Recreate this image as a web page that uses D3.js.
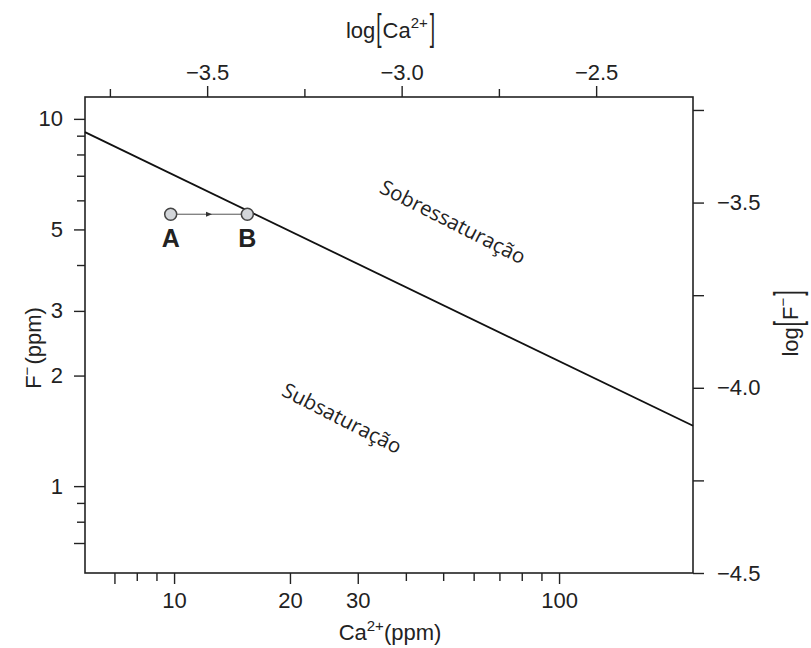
<!DOCTYPE html>
<html lang="pt">

<head>
    <meta charset="UTF-8">
    <script src="https://d3js.org/d3.v7.min.js"></script>
    <title>Fluorita</title>
    <style>
        body { margin: 0; background: #fff; }
        text { fill: #222; }
    </style>
</head>

<body>
    <div id="chart"></div>
    <script>
        const width = 811;
        const height = 648;
        const frame = { left: 85, right: 693, top: 97, bottom: 573 };

        // Data
        const caTicks = [7, 8, 9, 10, 20, 30, 40, 50, 60, 70, 80, 90, 100];
        const caLong = [7, 10, 20, 30, 100];
        const caLabels = [10, 20, 30, 100];
        const fTicks = [10, 9, 8, 7, 6, 5, 4, 3, 2, 1, 0.9, 0.8, 0.7];
        const fLong = [10, 5, 3, 2, 1, 0.7];
        const fLabels = [10, 5, 3, 2, 1];
        const logCaTicks = [-3.75, -3.5, -3.25, -3.0, -2.75, -2.5];
        const logCaLabels = [-3.5, -3.0, -2.5];
        const logFTicks = [-3.25, -3.5, -3.75, -4.0, -4.25, -4.5];
        const logFLabels = [-3.5, -4.0, -4.5];

        // saturation line (Ca ppm, F ppm)
        const lineCa = [5.87, 222.8];
        const lineF = [9.2, 1.46];

        const pointNames = ['A', 'B'];
        const pointCa = [9.8, 15.5];
        const pointF = [5.5, 5.5];

        const regionNames = ['Sobressaturação', 'Subsaturação'];
        const regionCa = [53, 27.3];
        const regionF = [5.24, 1.53];

        const svg = d3.select('#chart')
            .append('svg')
            .attr('width', width)
            .attr('height', height)
            .style('font-family', '"Liberation Sans", Arial, sans-serif');

        // Scales
        const x = d3.scaleLog().domain([5.87, 222.8]).range([frame.left, frame.right]);
        const y = d3.scaleLog().domain([0.58, 11.47]).range([frame.bottom, frame.top]);
        const xTop = d3.scaleLinear().domain([-3.814, -2.251]).range([frame.left, frame.right]);
        const yRight = d3.scaleLinear().domain([-4.5, -3.215]).range([frame.bottom, frame.top]);

        const fmt = d3.format('.1f');
        const LONG = 11, SHORT = 8;
        const FS = 22;

        function styleAxis(g) {
            g.select('.domain').remove();
            g.selectAll('line').attr('stroke', '#222').attr('stroke-width', 1.4);
            g.selectAll('text').style('font-size', FS + 'px').attr('fill', '#222');
        }

        // bottom axis
        svg.append('g')
            .attr('transform', `translate(0,${frame.bottom})`)
            .call(d3.axisBottom(x).tickValues(caTicks)
                .tickFormat(d => caLabels.includes(d) ? d : '')
                .tickSizeOuter(0))
            .call(styleAxis)
            .call(g => g.selectAll('.tick line').attr('y2', d => caLong.includes(d) ? LONG : SHORT))
            .call(g => g.selectAll('.tick text').attr('y', 19));

        // left axis
        svg.append('g')
            .attr('transform', `translate(${frame.left},0)`)
            .call(d3.axisLeft(y).tickValues(fTicks)
                .tickFormat(d => fLabels.includes(d) ? d : '')
                .tickSizeOuter(0))
            .call(styleAxis)
            .call(g => g.selectAll('.tick line').attr('x2', d => fLong.includes(d) ? -LONG : -SHORT))
            .call(g => g.selectAll('.tick text').attr('x', -22));

        // top axis
        svg.append('g')
            .attr('transform', `translate(0,${frame.top})`)
            .call(d3.axisTop(xTop).tickValues(logCaTicks)
                .tickFormat(d => logCaLabels.includes(d) ? fmt(d) : '')
                .tickSizeOuter(0))
            .call(styleAxis)
            .call(g => g.selectAll('.tick line').attr('y2', d => logCaLabels.includes(d) ? -LONG : -SHORT))
            .call(g => g.selectAll('.tick text').attr('y', -17));

        // right axis
        svg.append('g')
            .attr('transform', `translate(${frame.right},0)`)
            .call(d3.axisRight(yRight).tickValues(logFTicks)
                .tickFormat(d => logFLabels.includes(d) ? fmt(d) : '')
                .tickSizeOuter(0))
            .call(styleAxis)
            .call(g => g.selectAll('.tick line').attr('x2', LONG))
            .call(g => g.selectAll('.tick text').attr('x', 24));

        // frame
        svg.append('rect')
            .attr('x', frame.left)
            .attr('y', frame.top)
            .attr('width', frame.right - frame.left)
            .attr('height', frame.bottom - frame.top)
            .attr('fill', 'none')
            .attr('stroke', '#222')
            .attr('stroke-width', 1.6);

        // saturation line
        const line = d3.line()
            .x(d => x(d[0]))
            .y(d => y(d[1]));

        svg.append('path')
            .datum(d3.zip(lineCa, lineF))
            .attr('fill', 'none')
            .attr('stroke', '#111')
            .attr('stroke-width', 1.8)
            .attr('d', line);

        // arrow A -> B
        svg.append('defs').append('marker')
            .attr('id', 'head')
            .attr('viewBox', '0 0 10 10')
            .attr('refX', 5).attr('refY', 5)
            .attr('markerWidth', 6).attr('markerHeight', 6)
            .attr('orient', 'auto')
            .attr('markerUnits', 'userSpaceOnUse')
            .append('path')
            .attr('d', 'M0,1 L10,5 L0,9 Z')
            .attr('fill', '#333');

        const pa = [x(pointCa[0]), y(pointF[0])];
        const pb = [x(pointCa[1]), y(pointF[1])];
        svg.append('path')
            .attr('d', d3.line()([pa, [(pa[0] + pb[0]) / 2, (pa[1] + pb[1]) / 2], pb]))
            .attr('fill', 'none')
            .attr('stroke', '#555')
            .attr('stroke-width', 1)
            .attr('marker-mid', 'url(#head)');

        // points
        svg.selectAll('circle.pt')
            .data(pointNames)
            .join('circle')
            .attr('class', 'pt')
            .attr('cx', (d, i) => x(pointCa[i]))
            .attr('cy', (d, i) => y(pointF[i]))
            .attr('r', 6)
            .attr('fill', '#d3d6da')
            .attr('stroke', '#444')
            .attr('stroke-width', 1.5);

        svg.selectAll('text.pt')
            .data(pointNames)
            .join('text')
            .attr('class', 'pt')
            .attr('x', (d, i) => x(pointCa[i]))
            .attr('y', (d, i) => y(pointF[i]) + 33)
            .attr('text-anchor', 'middle')
            .style('font-size', '25px')
            .style('font-weight', 'bold')
            .text(d => d);

        // region labels
        svg.selectAll('text.region')
            .data(regionNames)
            .join('text')
            .attr('class', 'region')
            .attr('transform', (d, i) => `translate(${x(regionCa[i])},${y(regionF[i])}) rotate(27)`)
            .attr('text-anchor', 'middle')
            .attr('dy', '0.35em')
            .attr('fill', '#111')
            .style('font-family', '"Open Sans", sans-serif')
            .style('font-size', '20.5px')
            .text(d => d);

        // axis titles
        const bottomTitle = svg.append('text')
            .attr('x', 390)
            .attr('y', 640)
            .attr('text-anchor', 'middle')
            .style('font-size', FS + 'px');
        bottomTitle.append('tspan').text('Ca');
        bottomTitle.append('tspan').attr('dy', -9).style('font-size', '15px').text('2+');
        bottomTitle.append('tspan').attr('dy', 9).text('(ppm)');

        const leftTitle = svg.append('text')
            .attr('transform', 'translate(41,348) rotate(-90)')
            .attr('text-anchor', 'middle')
            .style('font-size', FS + 'px');
        leftTitle.append('tspan').text('F');
        leftTitle.append('tspan').attr('dy', -9).style('font-size', '15px').text('−');
        leftTitle.append('tspan').attr('dy', 9).attr('dx', 2).text('(ppm)');

        // log[...] titles with tall thin brackets
        function logTitle(g, ion, charge) {
            let cx = 0;
            const piece = (txt, size, dy) => {
                const t = g.append('text').attr('x', cx).attr('y', dy || 0)
                    .style('font-size', size + 'px').text(txt);
                cx += t.node().getComputedTextLength();
                return t;
            };
            const bracket = (txt) => {
                const t = g.append('text')
                    .attr('transform', `translate(${cx + 1},2) scale(1,1.9)`)
                    .style('font-size', '19px').text(txt);
                cx += t.node().getComputedTextLength() + 2;
            };
            piece('log', FS);
            bracket('[');
            piece(ion, FS);
            piece(charge, 15, -10);
            cx += 1;
            bracket(']');
            return cx;
        }

        const topTitle = svg.append('g');
        const topW = logTitle(topTitle, 'Ca', '2+');
        topTitle.attr('transform', `translate(${391 - topW / 2},38)`);

        const rightTitle = svg.append('g');
        const rightW = logTitle(rightTitle, 'F', '−');
        rightTitle.attr('transform', `translate(798,${323 + rightW / 2}) rotate(-90)`);
    </script>
</body>

</html>
